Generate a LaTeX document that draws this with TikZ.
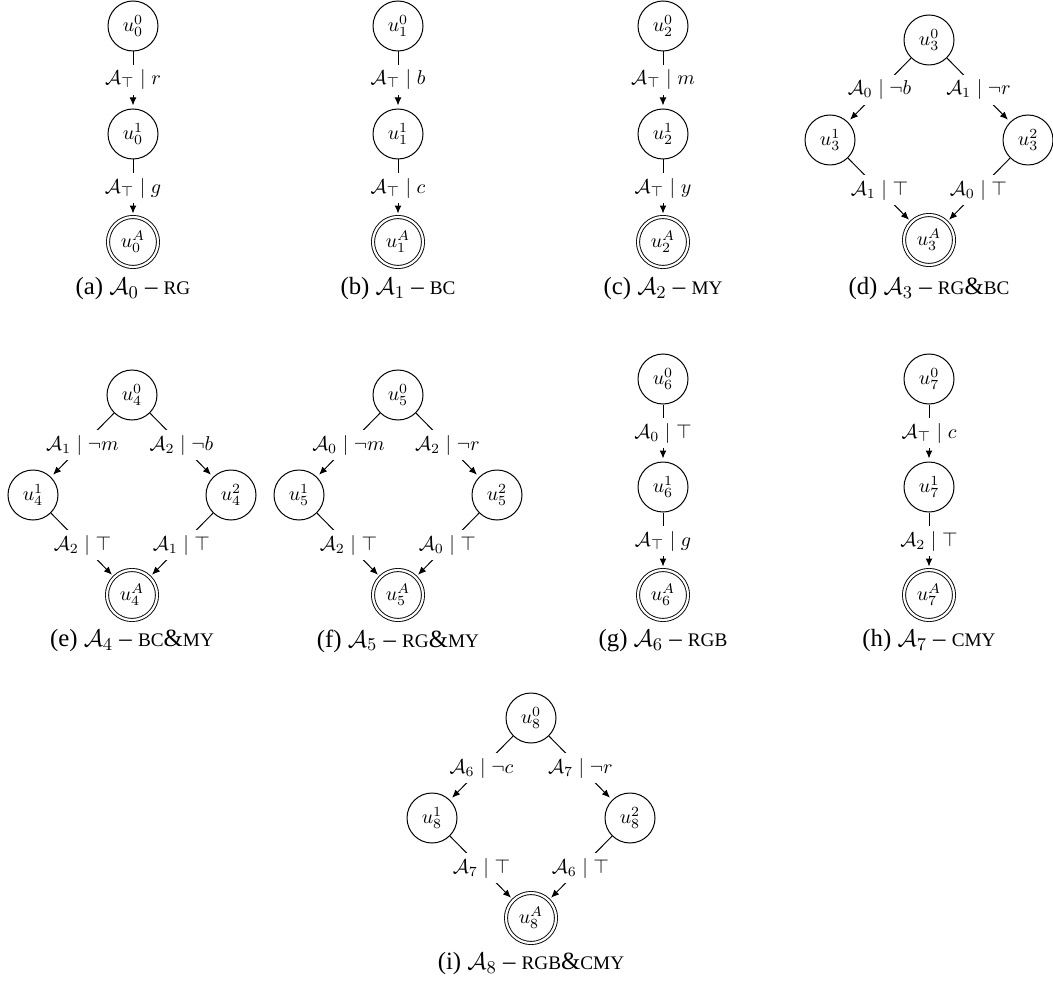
\documentclass[tikz,border=0pt]{standalone}
\usepackage[no-math]{fontspec}
\setmainfont{Liberation Serif}
\usetikzlibrary{arrows.meta}
\newcommand{\fsc}[1]{{\fontsize{9.6}{11}\selectfont #1}}
% chain: #1 prefix, #2 x, #3 y top, #4 dy, #5 index, #6 label1, #7 label2
\newcommand{\mkchain}[7]{%
  \node[st]  (#1a) at (#2,#3) {$u_{#5}^0$};
  \node[st]  (#1b) at (#2,{#3+#4}) {$u_{#5}^1$};
  \node[acc] (#1c) at (#2,{#3+2*#4}) {$u_{#5}^A$};
  \draw[edge] (#1a) -- node[lbl] {#6} (#1b);
  \draw[edge] (#1b) -- node[lbl] {#7} (#1c);
}
% diamond: #1 prefix, #2 cx, #3 y top, #4 index, #5..#8 labels
\newcommand{\mkdiamond}[8]{%
  \node[st]  (#1a) at (#2,#3) {$u_{#4}^0$};
  \node[st]  (#1b) at ({#2-99},{#3+100}) {$u_{#4}^1$};
  \node[st]  (#1c) at ({#2+99},{#3+100}) {$u_{#4}^2$};
  \node[acc] (#1d) at (#2,{#3+200}) {$u_{#4}^A$};
  \draw[edge] (#1a) -- node[lbl] {#5} (#1b);
  \draw[edge] (#1a) -- node[lbl] {#6} (#1c);
  \draw[edge] (#1b) -- node[lbl] {#7} (#1d);
  \draw[edge] (#1c) -- node[lbl] {#8} (#1d);
}
\begin{document}
\begin{tikzpicture}[x=0.5pt,y=-0.5pt,
  st/.style={circle,draw,line width=0.5pt,minimum size=25pt,inner sep=0pt},
  acc/.style={circle,draw,double,double distance=1.1pt,line width=0.45pt,minimum size=25pt,inner sep=0pt},
  edge/.style={-{Latex[length=4pt,width=3.4pt]},line width=0.5pt,shorten >=1.5pt},
  lbl/.style={fill=white,inner sep=2.5pt},
  captext/.style={inner sep=0pt,font=\fontsize{12.4}{14}\selectfont}]
\useasboundingbox (0,0) rectangle (1053,989);

% row 1
\mkchain{a}{133}{26}{108}{0}{$\mathcal{A}_\top\mid r$}{$\mathcal{A}_\top\mid g$}
\node[captext] (capa) at (133,289) {(a) $\mathcal{A}_0$ -- \fsc{RG}};
\mkchain{b}{398}{26}{108}{1}{$\mathcal{A}_\top\mid b$}{$\mathcal{A}_\top\mid c$}
\node[captext] (capb) at (398,289) {(b) $\mathcal{A}_1$ -- \fsc{BC}};
\mkchain{c}{663}{26}{108}{2}{$\mathcal{A}_\top\mid m$}{$\mathcal{A}_\top\mid y$}
\node[captext] (capc) at (663,289) {(c) $\mathcal{A}_2$ -- \fsc{MY}};
\mkdiamond{d}{929}{40}{3}{$\mathcal{A}_0\mid\neg b$}{$\mathcal{A}_1\mid\neg r$}{$\mathcal{A}_1\mid\top$}{$\mathcal{A}_0\mid\top$}
\node[captext] (capd) at (929,289) {(d) $\mathcal{A}_3$ -- \fsc{RG}\&\fsc{BC}};

% row 2
\mkdiamond{e}{132}{395}{4}{$\mathcal{A}_1\mid\neg m$}{$\mathcal{A}_2\mid\neg b$}{$\mathcal{A}_2\mid\top$}{$\mathcal{A}_1\mid\top$}
\node[captext] (cape) at (132,641) {(e) $\mathcal{A}_4$ -- \fsc{BC}\&\fsc{MY}};
\mkdiamond{f}{398}{395}{5}{$\mathcal{A}_0\mid\neg m$}{$\mathcal{A}_2\mid\neg r$}{$\mathcal{A}_2\mid\top$}{$\mathcal{A}_0\mid\top$}
\node[captext] (capf) at (398,641) {(f) $\mathcal{A}_5$ -- \fsc{RG}\&\fsc{MY}};
\mkchain{g}{663}{379}{108}{6}{$\mathcal{A}_0\mid\top$}{$\mathcal{A}_\top\mid g$}
\node[captext] (capg) at (663,641) {(g) $\mathcal{A}_6$ -- \fsc{RGB}};
\mkchain{h}{929}{379}{108}{7}{$\mathcal{A}_\top\mid c$}{$\mathcal{A}_2\mid\top$}
\node[captext] (caph) at (929,641) {(h) $\mathcal{A}_7$ -- \fsc{CMY}};

% row 3
\mkdiamond{i}{531}{718}{8}{$\mathcal{A}_6\mid\neg c$}{$\mathcal{A}_7\mid\neg r$}{$\mathcal{A}_7\mid\top$}{$\mathcal{A}_6\mid\top$}
\node[captext] (capi) at (531,964) {(i) $\mathcal{A}_8$ -- \fsc{RGB}\&\fsc{CMY}};
\end{tikzpicture}
\end{document}
